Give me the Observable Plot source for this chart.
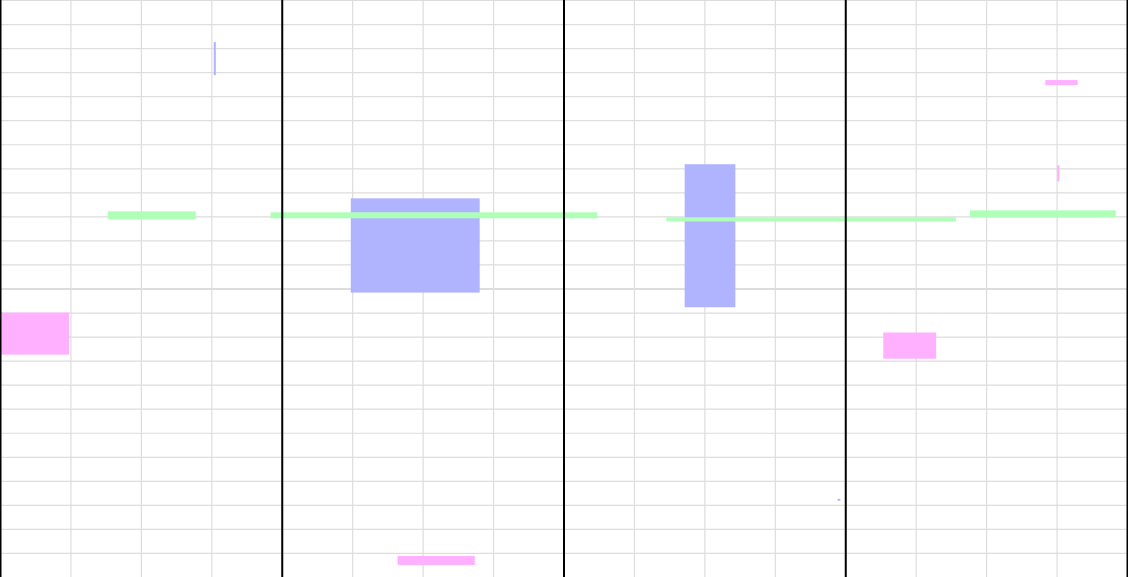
<!DOCTYPE html>
<html>
<head>
<meta charset="utf-8">
<script src="https://cdn.jsdelivr.net/npm/d3@7"></script>
<script src="https://cdn.jsdelivr.net/npm/@observablehq/plot@0.6"></script>
<style>
  html, body { margin: 0; padding: 0; background: #fff; overflow: hidden; }
</style>
</head>
<body>
<div id="chart"></div>
<script>
// Series of rectangles: [x1, x2, y1, y2] in data units
const seriesARects = [
  [3.035, 3.064, 8.875, 10.25],
  [4.98, 6.81, -0.17, 3.75],
  [9.72, 10.44, -0.78, 5.17],
  [11.89, 11.93, -8.83, -8.75]
];
const seriesBRects = [
  [-0.05, 0.98, -2.75, -1.0],
  [5.645, 6.74, -11.5, -11.125],
  [14.84, 15.30, 8.46, 8.67],
  [15.01, 15.04, 4.46, 5.125],
  [12.54, 13.29, -2.92, -1.83]
];
const seriesCRects = [
  [1.53, 2.78, 2.875, 3.21],
  [3.84, 8.48, 2.92, 3.17],
  [9.46, 13.57, 2.79, 2.96],
  [13.77, 15.84, 2.96, 3.25]
];
const seriesNames = ["Series A", "Series B", "Series C"];
const seriesColors = ["#b0b4ff", "#ffb0ff", "#b0ffb8"];

const minorXTicks = d3.range(0, 17, 1);
const majorXTicks = [0, 4, 8, 12, 16];
const yTicks = d3.range(-12, 13, 1);

const toRows = (arr, s) => arr.map(([x1, x2, y1, y2]) => ({x1, x2, y1, y2, series: s}));
const rects = [
  ...toRows(seriesARects, seriesNames[0]),
  ...toRows(seriesBRects, seriesNames[1]),
  ...toRows(seriesCRects, seriesNames[2])
];

const chart = Plot.plot({
  width: 1128,
  height: 577,
  marginTop: 0,
  marginBottom: 0,
  marginLeft: 0,
  marginRight: 1,
  x: {domain: [0, 16], axis: null},
  y: {domain: [-12, 12], axis: null},
  color: {type: "ordinal", domain: seriesNames, range: seriesColors},
  style: {background: "#fff"},
  marks: [
    Plot.ruleX(minorXTicks, {stroke: "#dddddd", strokeWidth: 1.2}),
    Plot.ruleY(yTicks, {stroke: "#dddddd", strokeWidth: 1.2}),
    Plot.ruleY([0], {stroke: "#dddddd", strokeWidth: 2.2}),
    Plot.rect(rects, {x1: "x1", x2: "x2", y1: "y1", y2: "y2", fill: "series"}),
    Plot.ruleX(majorXTicks, {stroke: "#000", strokeWidth: 2})
  ]
});
document.getElementById("chart").appendChild(chart);
</script>
</body>
</html>
